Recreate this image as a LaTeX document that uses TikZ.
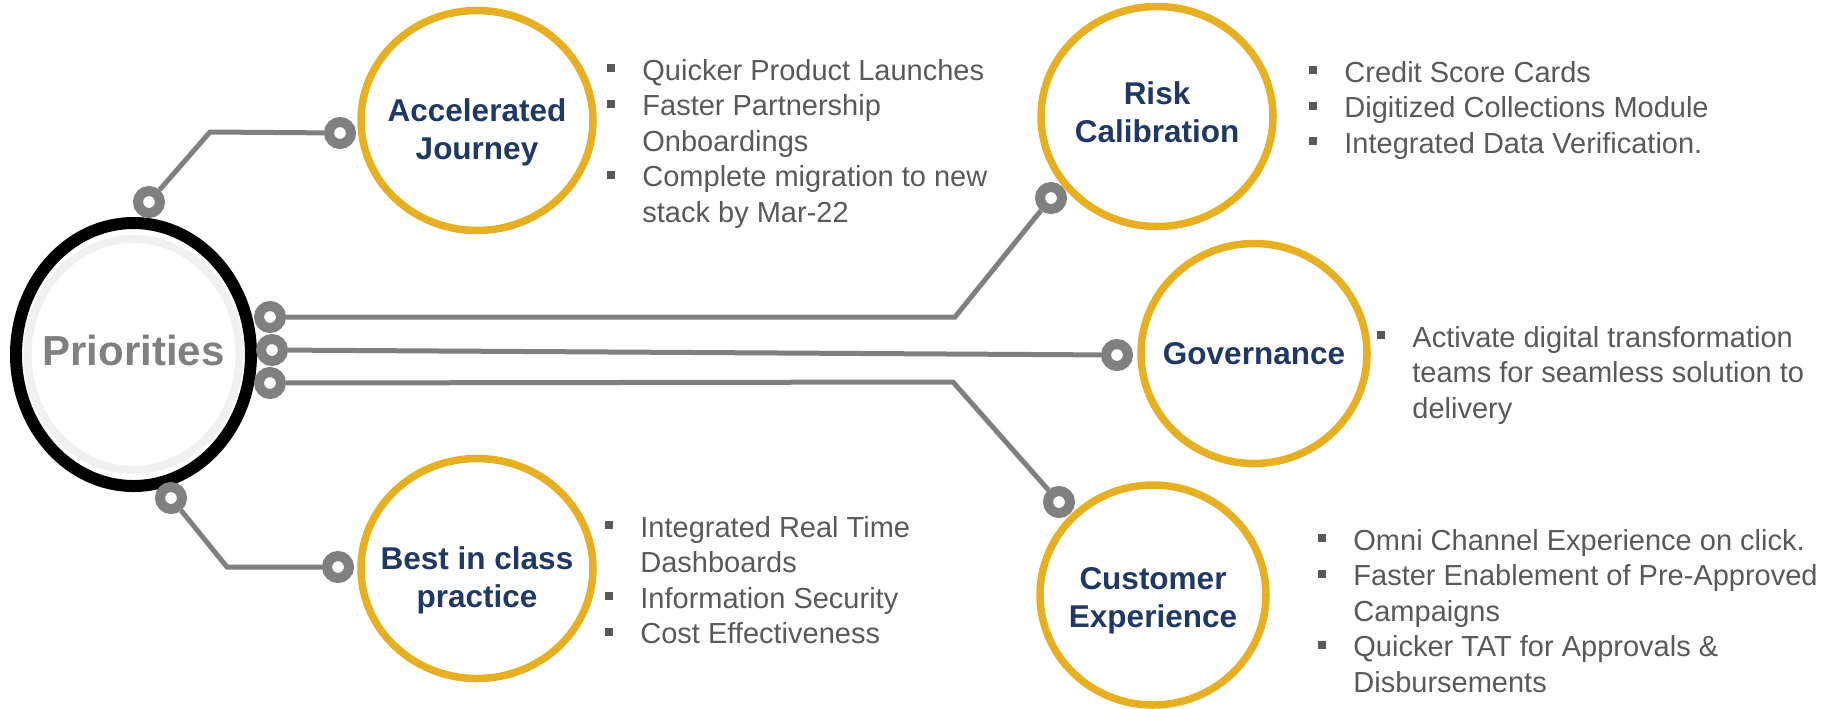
\documentclass[tikz,border=0pt]{standalone}
\usepackage{xcolor}
\usepackage{fontspec}
\setmainfont{Liberation Sans}
\usepackage{pgf,tikz}
\usetikzlibrary{shapes,calc}

\definecolor{gold}{RGB}{230,176,34}
\definecolor{navy}{RGB}{32,56,100}
\definecolor{wiregray}{RGB}{128,128,128}
\definecolor{textgray}{RGB}{89,89,89}
\definecolor{halo}{RGB}{240,240,240}

\newcommand{\sq}{\textcolor{textgray}{\rule[4pt]{4pt}{4pt}}}

\tikzset{
  prio/.style={ellipse, draw=black, line width=6pt, fill=white, minimum width=117.5pt, minimum height=131.5pt, inner sep=0pt},
  topic/.style={ellipse, draw=gold, line width=3.75pt, fill=white, minimum width=116pt, minimum height=110pt, inner sep=0pt},
  ttl/.style={align=center, inner sep=0pt, text=navy, font=\fontsize{15.75}{19}\selectfont\bfseries},
  pin/.style={circle, draw=wiregray, line width=5pt, fill=white, minimum size=11pt, inner sep=0pt},
  wire/.style={draw=wiregray, line width=2.5pt},
  points/.style={anchor=base west, inner sep=0pt, text=textgray, font=\fontsize{14.5}{17.75}\selectfont},
}

\begin{document}
\begin{tikzpicture}[x=0.5pt,y=-0.5pt]
    \useasboundingbox (0,0) rectangle (1829,708);
    \node[prio, label={[inner sep=0pt, yshift=2pt, text=wiregray, font=\fontsize{21}{25}\selectfont\bfseries]center:Priorities}] (P) at (133.5,354.5) {};
    \draw[halo, line width=4pt] (P.center) ellipse [x radius=106, y radius=115.5];
    \node[topic, label={[ttl, yshift=-5.75pt]center:Accelerated\\Journey}] (acc) at (477,120.5) {};
    \node[topic, label={[ttl, yshift=2pt]center:Risk\\Calibration}] (risk) at (1157,116.5) {};
    \node[topic, minimum width=113pt, label={[ttl]center:Governance}] (gov) at (1254,353.5) {};
    \node[topic, label={[ttl, yshift=-6pt]center:Best in class\\practice}] (best) at (477,568.5) {};
    \node[topic, minimum width=113pt, label={[ttl, yshift=-2.75pt]center:Customer\\Experience}] (cust) at (1153,595) {};
    % pins on the hub
    \node[pin] (pA) at (149,202) {};
    \node[pin] (pR1) at (270,317) {};
    \node[pin] (pR2) at (272,350) {};
    \node[pin] (pR3) at (270,383) {};
    \node[pin] (pB) at (171,498) {};
    % pins on the topics
    \node[pin] (pAcc) at (340,133) {};
    \node[pin] (pRisk) at (1051,198) {};
    \node[pin] (pGov) at (1117,355) {};
    \node[pin] (pCust) at (1059,502) {};
    \node[pin] (pBest) at (338,567) {};
    \coordinate (kAcc) at (210,132);
    \coordinate (kBest) at (227,567);
    \coordinate (kRisk) at (955,317);
    \coordinate (kCust) at (953,382);
    \draw[wire] (pA) -- (kAcc) -- (pAcc);
    \draw[wire] (pB) -- (kBest) -- (pBest);
    \draw[wire] (pR1) -- (kRisk) -- (pRisk);
    \path [wire](pR2) edge node {} (pGov);
    \draw[wire] (pR3) -- (kCust) -- (pCust);
    \node[points] (accList) at (607,80) {\begin{tabular}[t]{@{}l@{\hspace{13.5pt}}l@{}}
      \sq & Quicker Product Launches\\
      \sq & Faster Partnership\\
          & Onboardings\\
      \sq & Complete migration to new\\
          & stack by Mar-22
    \end{tabular}};
    \node[points] (riskList) at (1309,82) {\begin{tabular}[t]{@{}l@{\hspace{13.5pt}}l@{}}
      \sq & Credit Score Cards\\
      \sq & Digitized Collections Module\\
      \sq & Integrated Data Verification.
    \end{tabular}};
    \node[points] (govList) at (1377,347) {\begin{tabular}[t]{@{}l@{\hspace{13.5pt}}l@{}}
      \sq & Activate digital transformation\\
          & teams for seamless solution to\\
          & delivery
    \end{tabular}};
    \node[points] (bestList) at (605,537) {\begin{tabular}[t]{@{}l@{\hspace{13.5pt}}l@{}}
      \sq & Integrated Real Time\\
          & Dashboards\\
      \sq & Information Security\\
      \sq & Cost Effectiveness
    \end{tabular}};
    \node[points] (custList) at (1318,550) {\begin{tabular}[t]{@{}l@{\hspace{13.5pt}}l@{}}
      \sq & Omni Channel Experience on click.\\
      \sq & Faster Enablement of Pre-Approved\\
          & Campaigns\\
      \sq & Quicker TAT for Approvals \&\\
          & Disbursements
    \end{tabular}};
\end{tikzpicture}
\end{document}
